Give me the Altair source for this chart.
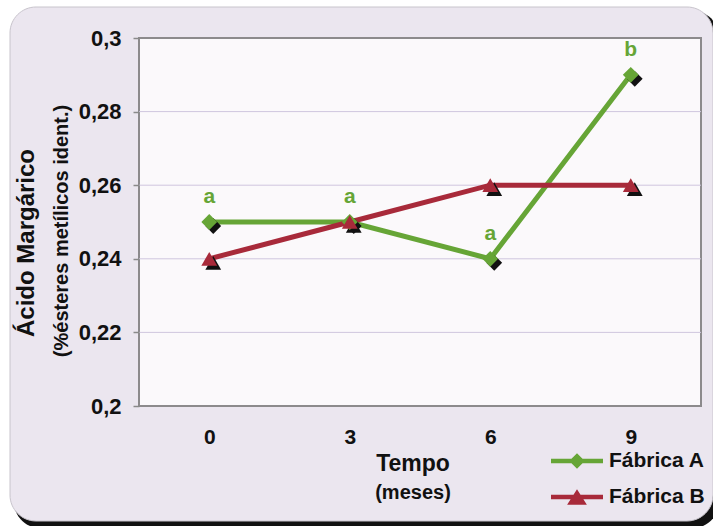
import altair as alt
import pandas as pd

tempo = [0, 3, 6, 9]
fabrica_a = [0.25, 0.25, 0.24, 0.29]
fabrica_b = [0.24, 0.25, 0.26, 0.26]
letras_a = ["a", "a", "a", "b"]
series = ["Fábrica A", "Fábrica B"]
y_ticks = [0.2, 0.22, 0.24, 0.26, 0.28, 0.3]
grid_vals = [0.22, 0.24, 0.26, 0.28]

GREEN = "#66a536"
RED = "#a82a3a"
FONT = "Liberation Sans"
W, H = 562, 368

rows = []
for i, t in enumerate(tempo):
    rows.append({"Tempo": t, "Valor": fabrica_a[i], "Fábrica": series[0], "Letra": letras_a[i]})
for i, t in enumerate(tempo):
    rows.append({"Tempo": t, "Valor": fabrica_b[i], "Fábrica": series[1], "Letra": ""})
df = pd.DataFrame(rows)
df_a = df[df["Fábrica"] == series[0]]

one = pd.DataFrame({"k": [0]})

x_enc = alt.X("Tempo:O", title=None,
              axis=alt.Axis(labelAngle=0, ticks=False, domain=False, labelFont=FONT,
                            labelFontSize=21, labelFontWeight="bold", labelColor="#111",
                            labelPadding=20, zindex=1))
y_scale = alt.Scale(domain=[0.2, 0.3], nice=False, zero=False)
y_enc = alt.Y("Valor:Q", scale=y_scale, title=None,
              axis=alt.Axis(values=y_ticks, format=".2~f",
                            labelExpr="replace(datum.label, '.', ',')",
                            grid=False, domain=False, tickColor="#8a8a8a", tickSize=6,
                            tickWidth=1.5, labelFont=FONT, labelFontSize=22,
                            labelFontWeight="bold", labelColor="#111", labelPadding=12,
                            zindex=1))

shadow_box = alt.Chart(one).mark_rect(cornerRadius=26, fill="#111111").encode(
    x=alt.value(-125), x2=alt.value(580), y=alt.value(-27), y2=alt.value(490))
bg_box = alt.Chart(one).mark_rect(cornerRadius=26, fill="#ebe6ef", stroke="#c8c4cc",
                                  strokeWidth=1).encode(
    x=alt.value(-129), x2=alt.value(574), y=alt.value(-31), y2=alt.value(483))
plot_box = alt.Chart(one).mark_rect(fill="#fbf9fb", stroke="#8c8a8c", strokeWidth=2).encode(
    x=alt.value(0), x2=alt.value(W), y=alt.value(0), y2=alt.value(H))

grid = alt.Chart(pd.DataFrame({"g": grid_vals})).mark_rule(color="#cfc6de", strokeWidth=1).encode(
    y=alt.Y("g:Q", scale=y_scale))

color_scale = alt.Scale(domain=series, range=[GREEN, RED])
shape_scale = alt.Scale(domain=series, range=["diamond", "triangle-up"])

lines = alt.Chart(df).mark_line(strokeWidth=5).encode(
    x=x_enc, y=y_enc,
    color=alt.Color("Fábrica:N", scale=color_scale, legend=None))

shadow_pts = alt.Chart(df).mark_point(filled=True, opacity=1, color="#111111", size=250,
                                      xOffset=4, yOffset=4).encode(
    x="Tempo:O", y=alt.Y("Valor:Q", scale=y_scale),
    shape=alt.Shape("Fábrica:N", scale=shape_scale, legend=None))

pts = alt.Chart(df).mark_point(filled=True, opacity=1, size=250).encode(
    x="Tempo:O", y=alt.Y("Valor:Q", scale=y_scale),
    color=alt.Color("Fábrica:N", scale=color_scale, legend=None),
    shape=alt.Shape("Fábrica:N", scale=shape_scale, legend=None))

labels = alt.Chart(df_a).mark_text(font=FONT, fontSize=21, fontWeight="bold", color=GREEN,
                                   dy=-25).encode(
    x="Tempo:O", y=alt.Y("Valor:Q", scale=y_scale), text="Letra:N")

path_a = "M-1,-0.09L1,-0.09L1,0.09L-1,0.09Z M0,-0.3L0.3,0L0,0.3L-0.3,0Z"
path_b = "M-1,-0.09L1,-0.09L1,0.09L-1,0.09Z M-0.38,0.3L0,-0.3L0.38,0.3Z"

legend_src = alt.Chart(df).mark_point(filled=True).encode(
    x="Tempo:O", y=alt.Y("Valor:Q", scale=y_scale),
    color=alt.Color("Fábrica:N", scale=alt.Scale(domain=series, range=[GREEN, RED]),
                    legend=alt.Legend(title=None, orient="none", legendX=412, legendY=397)),
    shape=alt.Shape("Fábrica:N", scale=alt.Scale(domain=series, range=[path_a, path_b]),
                    legend=alt.Legend(title=None, orient="none", legendX=412, legendY=397)),
).transform_filter("false")

t1 = alt.Chart(pd.DataFrame({"t": ["Ácido Margárico"]})).mark_text(
    font=FONT, fontSize=24, fontWeight="bold", angle=270, color="#111", baseline="middle").encode(
    text="t:N", x=alt.value(-112), y=alt.value(205))
t2 = alt.Chart(pd.DataFrame({"t": ["(%ésteres metílicos ident.)"]})).mark_text(
    font=FONT, fontSize=20, fontWeight="bold", angle=270, color="#111", baseline="middle").encode(
    text="t:N", x=alt.value(-77), y=alt.value(193))
t3 = alt.Chart(pd.DataFrame({"t": ["Tempo"]})).mark_text(
    font=FONT, fontSize=23, fontWeight="bold", color="#111", baseline="middle").encode(
    text="t:N", x=alt.value(274), y=alt.value(426))
t4 = alt.Chart(pd.DataFrame({"t": ["(meses)"]})).mark_text(
    font=FONT, fontSize=20, fontWeight="bold", color="#111", baseline="middle").encode(
    text="t:N", x=alt.value(274), y=alt.value(455))

chart = alt.layer(
    shadow_box, bg_box, plot_box, grid, lines, shadow_pts, pts, labels, legend_src,
    t1, t2, t3, t4
).resolve_scale(shape="independent", color="independent").properties(
    width=W, height=H,
    autosize=alt.AutoSizeParams(type="none"),
    padding={"left": 139, "top": 38, "right": 12, "bottom": 120},
    background="#ffffff",
).configure_view(stroke=None).configure_legend(
    labelFont=FONT, labelFontSize=21, labelFontWeight="bold", labelColor="#111",
    symbolSize=2704, symbolOpacity=1, symbolStrokeWidth=0, labelOffset=6, rowPadding=0,
)

chart.save("out.html", embed_options={"renderer": "svg", "actions": False})
